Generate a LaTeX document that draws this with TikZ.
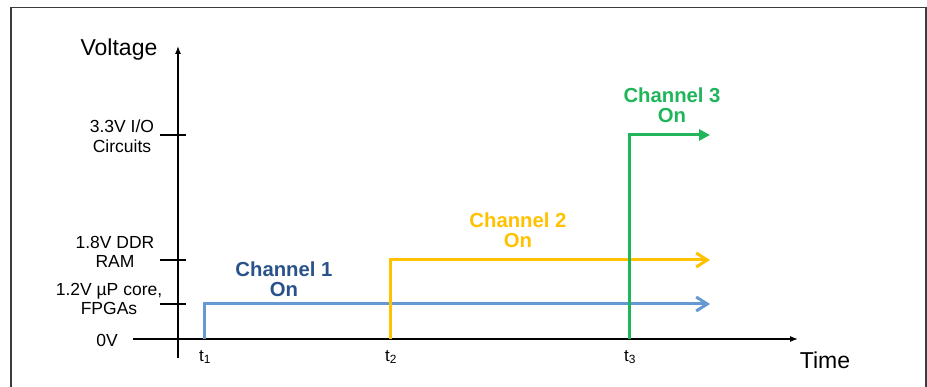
\documentclass[tikz,border=0pt]{standalone}
\usepackage{fontspec}
\setmainfont{Liberation Sans}
\usetikzlibrary{arrows.meta}
\definecolor{ch1line}{RGB}{102,153,209}
\definecolor{ch1text}{RGB}{42,82,138}
\definecolor{ch2}{RGB}{255,193,0}
\definecolor{ch3}{RGB}{32,181,90}
\definecolor{framegray}{RGB}{60,60,60}
\tikzset{
  axis/.style={line width=1.3pt, black},
  tickmark/.style={line width=1.1pt, black},
  ticklabel/.style={font=\fontsize{17.5}{19.5}\selectfont, align=center, inner sep=0pt},
  axislabel/.style={font=\fontsize{23}{26}\selectfont, inner sep=0pt},
  tlabel/.style={font=\fontsize{17}{19}\selectfont, inner sep=0pt},
  chanlabel/.style={font=\fontsize{20.3}{20.5}\selectfont\bfseries, align=center, inner sep=0pt},
  chanline/.style={line width=3pt},
  barb/.style={-{Straight Barb[length=11pt,width=14pt,line width=3pt]}},
  tri/.style={-{Triangle[length=11pt,width=11pt]}},
}
\begin{document}
\begin{tikzpicture}[x=1pt,y=-1pt]
\useasboundingbox (0,0) rectangle (927,387);
% frame
\draw[framegray, line width=1.8pt] (11,390) -- (11,7.5) -- (926,7.5) -- (926,390);
% axes
\coordinate (ybot) at (178,358);
\coordinate (ytop) at (178,46);
\coordinate (xleft) at (133,339);
\coordinate (xright) at (798,339);
\draw[axis, -{Latex[length=8pt,width=6pt]}] (ybot) -- (ytop);
\draw[axis, -{Latex[length=8pt,width=6pt]}] (xleft) -- (xright);
% ticks
\coordinate (k33a) at (160,135); \coordinate (k33b) at (186,135);
\coordinate (k18a) at (160,260); \coordinate (k18b) at (186,260);
\coordinate (k12a) at (160,304); \coordinate (k12b) at (186,304);
\draw[tickmark] (k33a) -- (k33b);
\draw[tickmark] (k18a) -- (k18b);
\draw[tickmark] (k12a) -- (k12b);
% labels
\node[axislabel] (vlabel) at (119,50) {Voltage};
\node[axislabel] (tlab) at (825,360) {Time};
\node[ticklabel] (l33) at (122,136) {3.3V I/O\\Circuits};
\node[ticklabel] (l18) at (115,252) {1.8V DDR\\RAM};
\node[ticklabel] (l12) at (109,299) {1.2V µP core,\\FPGAs};
\node[ticklabel] (l0) at (107,340) {0V};
\node[tlabel] (t1) at (205,357) {t\textsubscript{1}};
\node[tlabel] (t2) at (391,357) {t\textsubscript{2}};
\node[tlabel] (t3) at (630,357) {t\textsubscript{3}};
% channels
\coordinate (c1a) at (204,339); \coordinate (c1b) at (204,304); \coordinate (c1c) at (710,304);
\coordinate (c2a) at (390,339); \coordinate (c2b) at (390,260); \coordinate (c2c) at (710,260);
\coordinate (c3a) at (629,339); \coordinate (c3b) at (629,135); \coordinate (c3c) at (710,135);
\draw[chanline, ch1line, barb] (c1a) -- (c1b) -- (c1c);
\draw[chanline, ch2, barb] (c2a) -- (c2b) -- (c2c);
\draw[chanline, ch3, tri] (c3a) -- (c3b) -- (c3c);
\node[chanlabel, ch1text] (n1) at (284,279) {Channel 1\\On};
\node[chanlabel, ch2] (n2) at (518,230) {Channel 2\\On};
\node[chanlabel, ch3] (n3) at (672,105) {Channel 3\\On};
\end{tikzpicture}
\end{document}
